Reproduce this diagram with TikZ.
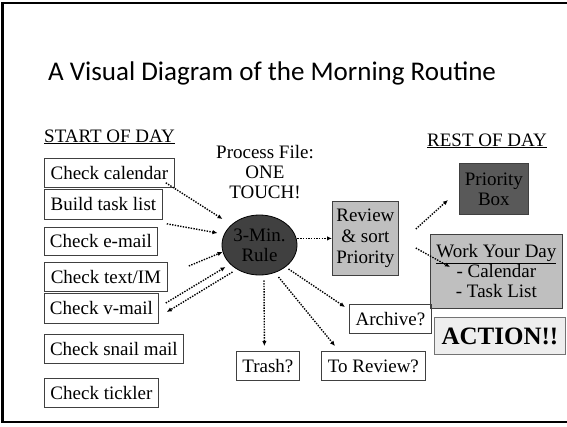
\documentclass[tikz,border=0pt]{standalone}
\usepackage{fontspec}
\setmainfont{Liberation Serif}
\newfontfamily\titlefont{Carlito}
\usetikzlibrary{arrows.meta,shapes.geometric}
\definecolor{darkfill}{HTML}{404040}
\definecolor{midfill}{HTML}{595959}
\definecolor{lightfill}{HTML}{BFBFBF}
\definecolor{actfill}{HTML}{EEEEEE}
\tikzset{
  lbl/.style={font=\fontsize{19}{20}\selectfont, inner sep=0pt},
  box/.style={draw=black!75, line width=0.8pt, inner sep=0pt, anchor=north west,
    font=\fontsize{19}{20}\selectfont, align=center, text=black},
  arr/.style={line width=1.4pt, dash pattern=on 1.4pt off 1.3pt,
    -{Latex[length=5pt,width=4.5pt]}},
  frame/.style={line width=2.5pt, black}
}
\begin{document}
\begin{tikzpicture}[x=1pt,y=-1pt]
\useasboundingbox (0,0) rectangle (567,426);
% slide frame
\coordinate (f1) at (2.5,422);
\coordinate (f2) at (2.5,3);
\coordinate (f3) at (570,3);
\coordinate (f4) at (570,422);
\draw[frame] (f3) -- (f2) -- (f1) -- (f4);

\node[anchor=base west, inner sep=0pt, font=\titlefont\fontsize{27}{30}\selectfont] (title) at (48,80) {A Visual Diagram of the Morning Routine};
\node[lbl, anchor=base west] (start) at (44,142) {\underline{START OF DAY}};
\node[lbl, anchor=base west] (rest) at (427,146) {\underline{REST OF DAY}};
\node[lbl, align=center] (pf) at (265,172) {Process File:\\ONE\\TOUCH!};

% left boxes
\node[box, minimum width=130pt, minimum height=29pt] (cal) at (44,158) {Check calendar};
\node[box, minimum width=118pt, minimum height=30pt] (build) at (44,189) {Build task list};
\node[box, minimum width=113pt, minimum height=28pt] (email) at (44,227) {Check e-mail};
\node[box, minimum width=123pt, minimum height=29pt] (text) at (44,262) {Check text/IM};
\node[box, minimum width=114pt, minimum height=30pt] (vmail) at (44,293) {Check v-mail};
\node[box, minimum width=139pt, minimum height=29pt] (snail) at (44,334) {Check snail mail};
\node[box, minimum width=114pt, minimum height=29pt] (tick) at (44,378) {Check tickler};

% centre
\node[ellipse, draw=black, line width=0.8pt, fill=darkfill, text=black, minimum width=75pt, minimum height=60pt,
  inner sep=0pt, align=center, font=\fontsize{19}{20}\selectfont] (circ) at (259.5,245) {3-Min.\\Rule};
\node[box, fill=lightfill, minimum width=66pt, minimum height=74pt, font=\fontsize{19}{21}\selectfont] (review) at (332,201) {Review\\\& sort\\Priority};

% right
\node[box, fill=midfill, minimum width=69pt, minimum height=51pt] (prio) at (459,163) {Priority\\Box};
\node[box, fill=lightfill, minimum width=132pt, minimum height=74pt] (work) at (430,234) {\underline{Work Your Day}\\- Calendar\\- Task List};
\node[box, draw=black!55, fill=actfill, minimum width=131pt, minimum height=37pt,
  font=\bfseries\fontsize{25}{28}\selectfont] (action) at (434,317) {ACTION!!};

% bottom
\node[box, minimum width=82pt, minimum height=29pt] (archive) at (349,304) {Archive?};
\node[box, minimum width=63pt, minimum height=29pt] (trash) at (236,351) {Trash?};
\node[box, minimum width=104pt, minimum height=29pt] (torev) at (321,351) {To Review?};

% connectors
\draw[arr] ([shift={(-9,-5)}]cal.south east) -- ([shift={(-37,-26)}]circ.center);
\draw[arr] ([shift={(4,4)}]build.south east) -- ([shift={(-42,-12)}]circ.center);
\draw[arr] ([shift={(21,4)}]text.north east) -- ([shift={(-37,7)}]circ.center);
\draw[arr] ([shift={(7,10)}]vmail.north east) -- ([shift={(-34,22)}]circ.center);
\draw[arr] ([shift={(-27,27)}]circ.center) -- ([shift={(8,19)}]vmail.north east);
\draw[arr] (circ.east |- review.west) -- (review.west);
\draw[arr] ([shift={(17,28)}]review.north east) -- ([shift={(-11,37)}]prio.north west);
\draw[arr] ([shift={(17,47)}]review.north east) -- ([shift={(20,33)}]work.north west);
\draw[arr] ([shift={(4.5,5)}]circ.south) -- ([shift={(-3.5,-5)}]trash.north);
\draw[arr] ([shift={(19,32)}]circ.center) -- ([shift={(14,-5)}]torev.north west);
\draw[arr] ([shift={(29,24)}]circ.center) -- ([shift={(-4,3)}]archive.north west);
\end{tikzpicture}
\end{document}
